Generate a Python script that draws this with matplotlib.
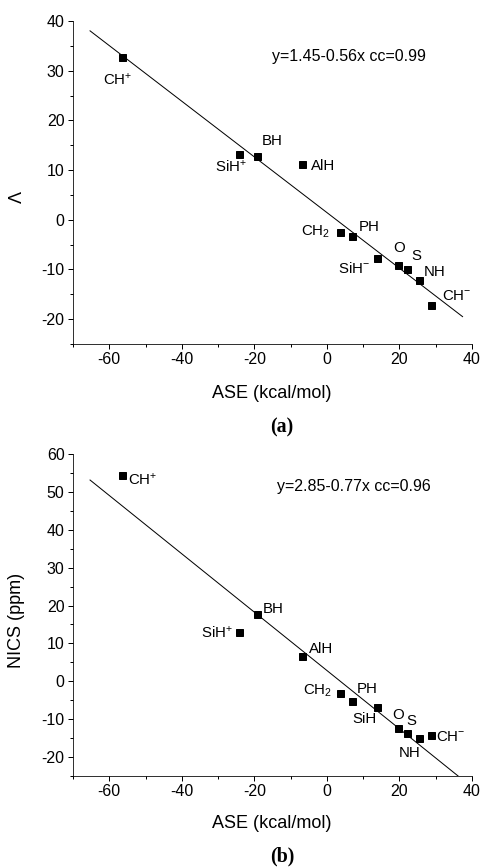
import numpy as np
import matplotlib
matplotlib.use('Agg')
import matplotlib.pyplot as plt
from matplotlib.ticker import MultipleLocator

# fonts close to the Origin look (Arial-like)
plt.rcParams.update({'font.family': 'Liberation Sans', 'font.size': 16})
plt.rcParams['mathtext.fontset'] = 'custom'
plt.rcParams['mathtext.rm'] = 'Liberation Sans'
plt.rcParams['mathtext.it'] = 'Liberation Sans'
plt.rcParams['axes.unicode_minus'] = False

# ASE (kcal/mol), same for both panels
ase = [-56.6, -24.1, -19.4, -6.8, 3.6, 7.0, 13.7, 19.7, 22.2, 25.5, 28.6]
# exaltation Lambda (panel a)
lam = [32.7, 13.2, 12.8, 11.2, -2.4, -3.2, -7.6, -9.1, -10.0, -12.1, -17.2]
# NICS in ppm (panel b)
nics = [54.5, 13.0, 17.7, 6.7, -3.2, -5.3, -6.8, -12.3, -13.6, -15.1, -14.2]

labels_a = [r'CH$^{+}$', r'SiH$^{+}$', 'BH', 'AlH', r'CH$_{2}$', 'PH', r'SiH$^{-}$', 'O', 'S', 'NH', r'CH$^{-}$']
labels_b = [r'CH$^{+}$', r'SiH$^{+}$', 'BH', 'AlH', r'CH$_{2}$', 'PH', 'SiH', 'O', 'S', 'NH', r'CH$^{-}$']

# fit lines: y = a + b*x
fit_a = (1.45, -0.56, -65.3, 37.4)
fit_b = (2.85, -0.77, -65.3, 36.2)

# label offsets (pixels, y up) and horizontal alignment
off_a = [(-4, -22, 'center'), (-9, -12, 'center'), (16, 15, 'center'), (9, -2, 'left'),
         (-10, 0, 'right'), (17, 9, 'center'), (-7, -11, 'right'), (1, 17, 'center'),
         (9, 13, 'center'), (15, 8, 'center'), (26, 9, 'center')]
off_b = [(6, -5, 'left'), (-23, -1, 'center'), (17, 5, 'center'), (19, 7, 'center'),
         (-22, 3, 'center'), (15, 12, 'center'), (-12, -12, 'center'), (0, 13, 'center'),
         (4, 12, 'center'), (-10, -15, 'center'), (5, -2, 'left')]

W, H = 482, 867
fig = plt.figure(figsize=(W / 72, H / 72), dpi=72)
ax1 = fig.add_axes([73 / W, 1 - 344 / H, 399 / W, 323 / H])
ax2 = fig.add_axes([73 / W, 1 - 776 / H, 399 / W, 322 / H])


def draw(ax, yv, labels, offs, fit, ylim, ymaj, eq, eq_xy):
    ax.plot(ase, yv, 's', color='black', markersize=7, zorder=3)
    a, b, x0, x1 = fit
    xs = np.array([x0, x1])
    ax.plot(xs, a + b * xs, color='black', linewidth=1.0)
    for x, y, t, (dx, dy, ha) in zip(ase, yv, labels, offs):
        ax.annotate(t, (x, y), xytext=(dx, dy), textcoords='offset points',
                    ha=ha, va='center', fontsize=15)
    ax.text(eq_xy[0], eq_xy[1], eq, transform=ax.transAxes, fontsize=16, va='center')
    ax.set_xlim(-70, 40)
    ax.set_ylim(*ylim)
    ax.xaxis.set_major_locator(MultipleLocator(20))
    ax.xaxis.set_minor_locator(MultipleLocator(10))
    ax.yaxis.set_major_locator(MultipleLocator(ymaj))
    ax.yaxis.set_minor_locator(MultipleLocator(ymaj / 2))
    ax.spines['top'].set_visible(False)
    ax.spines['right'].set_visible(False)
    ax.tick_params(which='major', direction='out', length=5, width=1, labelsize=16)
    ax.tick_params(which='minor', direction='out', length=3, width=1)
    ax.patch.set_alpha(0)


draw(ax1, lam, labels_a, off_a, fit_a, (-25, 40), 10, 'y=1.45-0.56x cc=0.99',
     ((272 - 73) / 399, (344 - 57) / 323))
draw(ax2, nics, labels_b, off_b, fit_b, (-25, 60), 10, 'y=2.85-0.77x cc=0.96',
     ((277 - 73) / 399, (776 - 487) / 322))

fig.text(272 / W, 1 - 394 / H, 'ASE (kcal/mol)', ha='center', va='center', fontsize=18)
fig.text(272 / W, 1 - 823 / H, 'ASE (kcal/mol)', ha='center', va='center', fontsize=18)
fig.text(17 / W, 1 - 197 / H, '\u039b', rotation=90, ha='center', va='center', fontsize=18)
fig.text(17 / W, 1 - 620 / H, 'NICS (ppm)', rotation=90, ha='center', va='center', fontsize=18)
fig.text(282 / W, 1 - 427 / H, '(a)', ha='center', va='center', fontsize=20,
         family='Liberation Serif', weight='bold')
fig.text(282 / W, 1 - 856 / H, '(b)', ha='center', va='center', fontsize=20,
         family='Liberation Serif', weight='bold')

fig.savefig('out.png', dpi=72)
